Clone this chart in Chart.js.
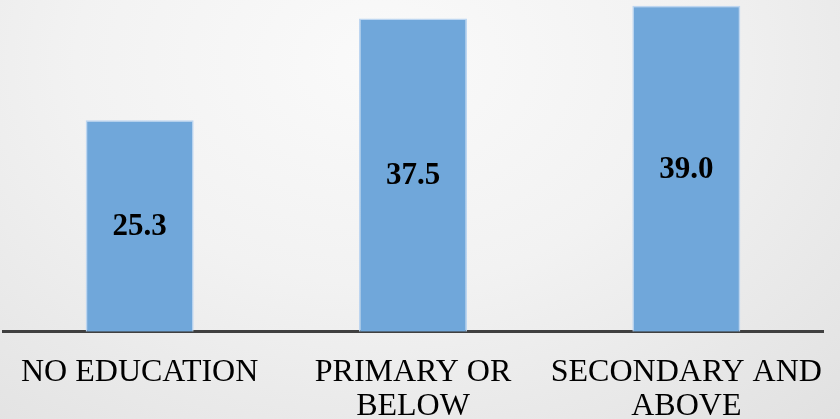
<!DOCTYPE html>
<html lang="en">
<head>
  <meta charset="UTF-8" />
  <title>Education levels</title>
  <script src="https://cdn.jsdelivr.net/npm/chart.js"></script>
  <style>
    html, body { margin: 0; padding: 0; }
    body {
      width: 840px; height: 419px; overflow: hidden;
      background: radial-gradient(ellipse 760px 560px at 380px 60px, #fafafa 0%, #f2f2f2 40%, #e4e4e4 80%, #dcdcdc 100%);
    }
    canvas { display: block; }
  </style>
</head>
<body>
<canvas id="chart" width="840" height="419"></canvas>

<script>
const categories = [['NO EDUCATION'], ['PRIMARY OR', 'BELOW'], ['SECONDARY AND', 'ABOVE']];
const values = [25.3, 37.5, 39.0];

// value written in the middle of each bar
const barLabels = {
  id: 'barLabels',
  afterDatasetsDraw(chart) {
    const ctx = chart.ctx;
    const meta = chart.getDatasetMeta(0);
    ctx.save();
    ctx.font = 'bold 31px "Liberation Serif", "Times New Roman", serif';
    ctx.fillStyle = '#000';
    ctx.textAlign = 'center';
    ctx.textBaseline = 'middle';
    meta.data.forEach((bar, i) => {
      ctx.fillText(values[i].toFixed(1), bar.x, (bar.y + bar.base) / 2 + 1);
    });
    ctx.restore();
  }
};

new Chart(document.getElementById('chart'), {
  type: 'bar',
  data: {
    labels: categories,
    datasets: [{
      data: values,
      backgroundColor: '#70a7da',
      borderColor: 'rgba(185, 212, 240, 0.95)',
      borderWidth: 1.5,
      barPercentage: 0.395,
      categoryPercentage: 1
    }]
  },
  options: {
    responsive: false,
    animation: false,
    layout: { padding: { left: 3, right: 17, top: 0, bottom: -28 } },
    plugins: {
      legend: { display: false },
      tooltip: { enabled: false }
    },
    scales: {
      x: {
        grid: { display: false, drawTicks: false },
        border: { color: '#404040', width: 3 },
        // the last label already fits inside the canvas, no extra side room needed
        afterFit(scale) {
          scale.paddingLeft = 0;
          scale.paddingRight = 0;
        },
        ticks: {
          color: '#000',
          padding: 24,
          maxRotation: 0,
          autoSkip: false,
          font: { family: '"Liberation Serif", "Times New Roman", serif', size: 32, lineHeight: 1.05 }
        }
      },
      y: {
        display: false,
        min: 0,
        max: 39.7
      }
    }
  },
  plugins: [barLabels]
});
</script>
</body>
</html>
